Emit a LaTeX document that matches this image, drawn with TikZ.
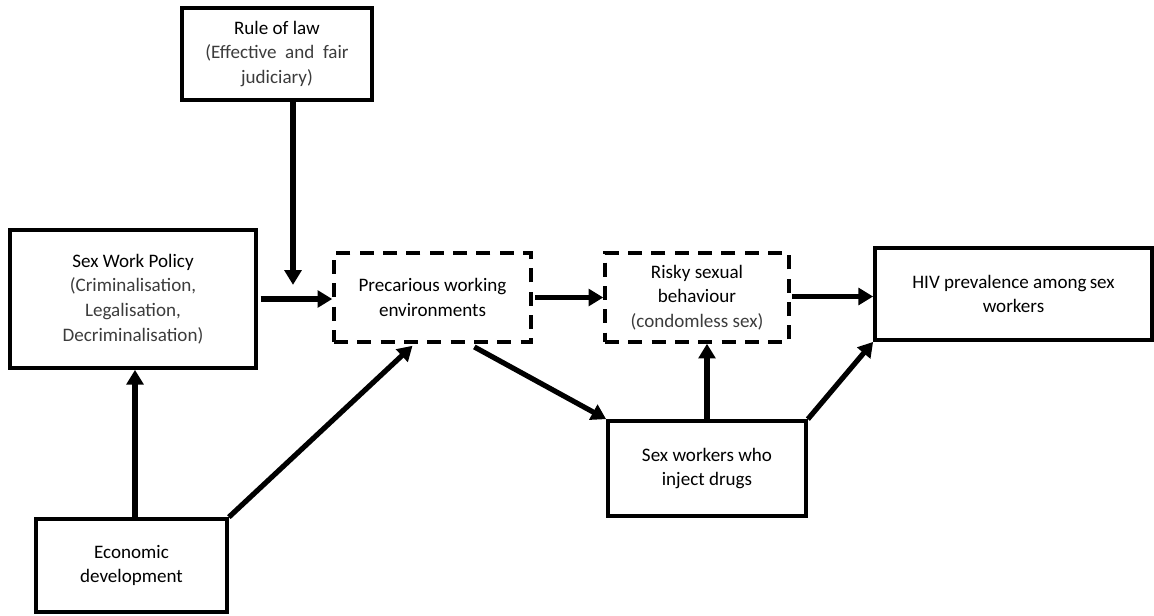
\documentclass[tikz,border=0pt]{standalone}
\usepackage{fontspec}
\setmainfont{Carlito}
\usetikzlibrary{arrows.meta,calc}
\definecolor{subgray}{RGB}{60,60,60}
\begin{document}
\begin{tikzpicture}[x=0.75pt,y=-0.75pt,
  box/.style={draw=black,line width=2.8pt,align=center,inner sep=2pt,
    font=\fontsize{14.3}{18.5}\selectfont},
  dbox/.style={box,line width=2.6pt,dash pattern=on 10.5pt off 7pt},
  arr/.style={line width=3.9pt,-{Triangle[length=11pt,width=12.5pt]}}]
\useasboundingbox (0,0) rectangle (1154,615);
\node[box,minimum width=190*0.75pt,minimum height=92*0.75pt] (rule) at (277,54)
  {Rule of law\\\textcolor{subgray}{(Effective\ \ and\ \ fair}\\\textcolor{subgray}{judiciary)}};
\node[box,minimum width=246*0.75pt,minimum height=138*0.75pt] (swp) at (133,299)
  {Sex Work Policy\\\textcolor{subgray}{(Criminalisation,}\\\textcolor{subgray}{Legalisation,}\\\textcolor{subgray}{Decriminalisation)}};
\node[dbox,minimum width=197*0.75pt,minimum height=89*0.75pt] (prec) at (432.5,297.5)
  {Precarious working\\environments};
\node[dbox,minimum width=184*0.75pt,minimum height=89*0.75pt] (risky) at (697,297.5)
  {Risky sexual\\behaviour\\\textcolor{subgray}{(condomless sex)}};
\node[box,minimum width=277*0.75pt,minimum height=92*0.75pt] (hiv) at (1013.5,294)
  {HIV prevalence\ among\,sex\\workers};
\node[box,minimum width=198*0.75pt,minimum height=95*0.75pt] (swid) at (707,468.5)
  {Sex workers who\\inject drugs};
\node[box,minimum width=191*0.75pt,minimum height=93*0.75pt] (econ) at (131.5,565.5)
  {Economic\\development};
\coordinate (mod) at ($(rule.south)+(16,183)$);
\draw[arr] (rule.south -| mod) -- (mod);
\draw[arr,shorten <=2pt] (swp.east) -- (prec.west |- swp.east);
\draw[arr,shorten <=2pt] (prec.east) -- (risky.west |- prec.east);
\draw[arr,shorten <=1pt] ($(risky.east)+(0,-1)$) -- ($(hiv.west |- risky.east)+(0,-1)$);
\draw[arr] ($(econ.north)+(3.5,0)$) -- ($(swp.south)+(2,0)$);
\draw[arr] (econ.north east) -- ($(prec.south)+(-20,2)$);
\draw[arr,shorten <=5pt] ($(prec.south)+(36,0)$) -- (swid.north west);
\draw[arr] (swid.north) -- (swid.north |- risky.south);
\draw[arr] (swid.north east) -- (hiv.south west);
\end{tikzpicture}
\end{document}
